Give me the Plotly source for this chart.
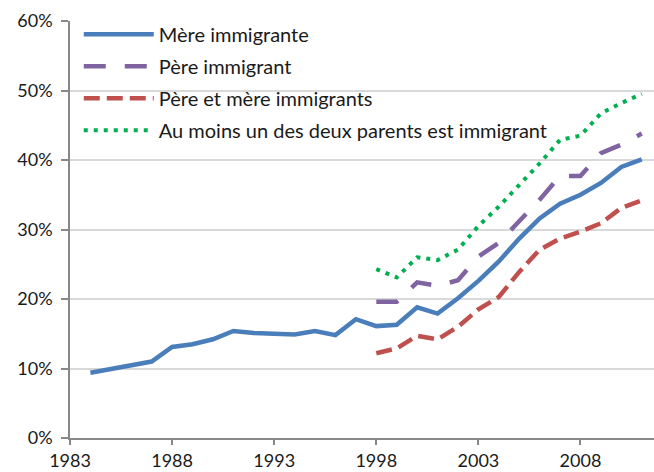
import plotly.graph_objects as go

years_mere = list(range(1984, 2012))
mere = [9.4, 9.9, 10.4, 11.0, 13.1, 13.5, 14.2, 15.4, 15.1, 15.0, 14.9, 15.4, 14.8, 17.1,
        16.1, 16.3, 18.8, 17.9, 20.1, 22.6, 25.4, 28.7, 31.6, 33.7, 35.0, 36.7, 39.0, 40.1]

years_late = list(range(1998, 2012))
pere = [19.6, 19.6, 22.4, 21.9, 22.7, 26.1, 28.1, 31.1, 34.3, 37.7, 37.7, 41.0, 42.2, 43.8]
pere_mere = [12.2, 12.9, 14.7, 14.2, 16.0, 18.5, 20.3, 23.9, 27.1, 28.7, 29.7, 30.9, 33.1, 34.2]
au_moins = [24.3, 23.1, 26.0, 25.6, 27.1, 30.5, 33.3, 36.4, 39.5, 42.9, 43.5, 46.7, 48.2, 49.5]

names = ["Mère immigrante", "Père immigrant", "Père et mère immigrants",
         "Au moins un des deux parents est immigrant"]
y_ticks = [0, 10, 20, 30, 40, 50, 60]
x_ticks = [1983, 1988, 1993, 1998, 2003, 2008]

FONT = "Lato, 'Open Sans', sans-serif"

fig = go.Figure()
fig.add_trace(go.Scatter(x=years_mere, y=mere, mode="lines", name=names[0], legendgroup="a",
                         line=dict(color="#4A7EBB", width=4.5)))
fig.add_trace(go.Scatter(x=years_late, y=pere, mode="lines", name=names[1], legendgroup="b",
                         line=dict(color="#8064A2", width=4.5, dash="22px,19px")))
fig.add_trace(go.Scatter(x=years_late, y=pere_mere, mode="lines", name=names[2], legendgroup="c",
                         line=dict(color="#C0504D", width=4.5, dash="16px,7px")))
fig.add_trace(go.Scatter(x=years_late, y=au_moins, mode="lines", name=names[3], legendgroup="d",
                         line=dict(color="#00B050", width=4, dash="4px,6px")))

fig.update_layout(
    width=654, height=472,
    margin=dict(l=70, r=0, t=21, b=34, autoexpand=False),
    paper_bgcolor="white", plot_bgcolor="white",
    font=dict(family=FONT, size=18, color="#1a1a1a"),
    showlegend=True,
    legend=dict(x=0.015, y=1.015, xanchor="left", yanchor="top",
                bgcolor="rgba(0,0,0,0)", itemwidth=70,
                traceorder="grouped", tracegroupgap=3,
                font=dict(family=FONT, size=20, color="#1a1a1a")),
    xaxis=dict(range=[1983, 2011.6], tickmode="array", tickvals=x_ticks,
               ticktext=[str(v) for v in x_ticks], showgrid=False, zeroline=False,
               showline=True, linecolor="#888888", linewidth=1.5, automargin=False,
               ticks="outside", ticklen=5, tickcolor="#888888", tickwidth=1.5,
               ticklabelstandoff=1,
               tickfont=dict(family=FONT, size=18, color="#1a1a1a")),
    yaxis=dict(range=[0, 60], tickmode="array", tickvals=y_ticks,
               ticktext=[f"{v}%" for v in y_ticks], showgrid=True,
               gridcolor="#D9D9D9", gridwidth=1.5, zeroline=False,
               showline=True, linecolor="#888888", linewidth=1.5, automargin=False,
               ticks="outside", ticklen=7, tickcolor="#888888", tickwidth=1.5,
               ticklabelstandoff=5,
               tickfont=dict(family=FONT, size=18, color="#1a1a1a")),
)

fig.write_html("out.html", config={"displayModeBar": False},
               post_script="document.body.style.margin='0';document.body.style.overflow='hidden';")
